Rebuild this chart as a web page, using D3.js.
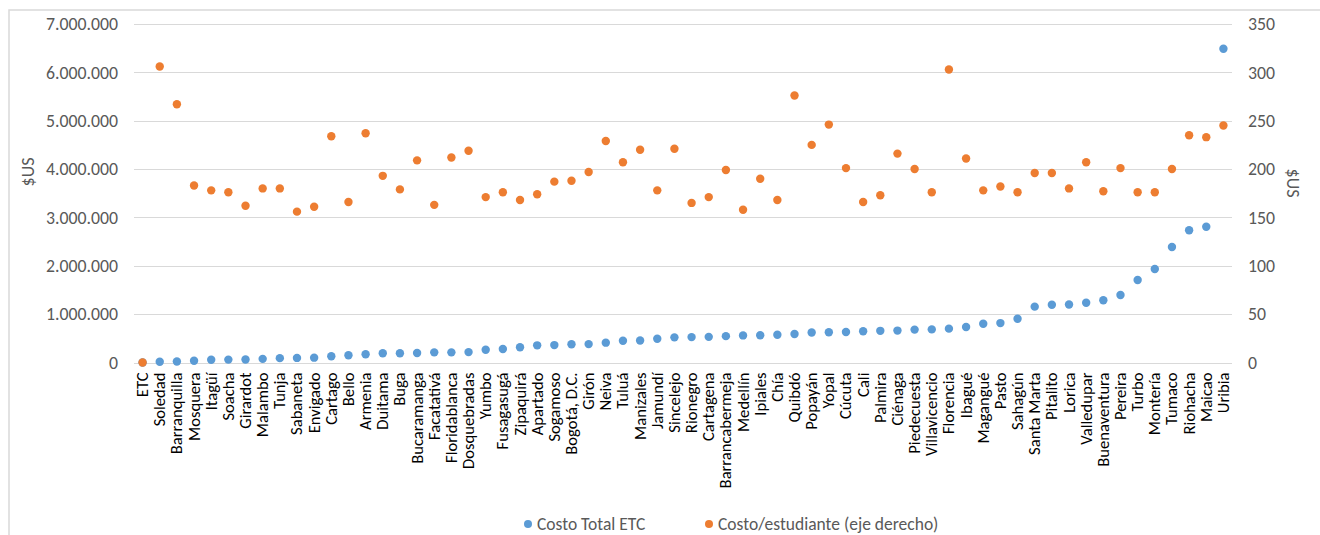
<!DOCTYPE html>
<html>
<head>
<meta charset="utf-8">
<script src="https://cdn.jsdelivr.net/npm/d3@7"></script>
<style>
  html, body { margin: 0; padding: 0; background: #fff; }
  svg text { font-family: Calibri, Carlito, "Liberation Sans", Arial, sans-serif; fill: #595959; }
</style>
</head>
<body>
<svg id="chart" width="1320" height="535"></svg>
<script>
// Municipalities (ETC), sorted by total cost
const categories = ["ETC","Soledad","Barranquilla","Mosquera","Itagüí","Soacha","Girardot","Malambo","Tunja","Sabaneta","Envigado","Cartago","Bello","Armenia","Duitama","Buga","Bucaramanga","Facatativá","Floridablanca","Dosquebradas","Yumbo","Fusagasugá","Zipaquirá","Apartado","Sogamoso","Bogotá, D.C.","Girón","Neiva","Tuluá","Manizales","Jamundí","Sincelejo","Rionegro","Cartagena","Barrancabermeja","Medellín","Ipiales","Chía","Quibdó","Popayán","Yopal","Cúcuta","Cali","Palmira","Ciénaga","Piedecuesta","Villavicencio","Florencia","Ibagué","Magangué","Pasto","Sahagún","Santa Marta","Pitalito","Lorica","Valledupar","Buenaventura","Pereira","Turbo","Montería","Tumaco","Riohacha","Maicao","Uribia"];

// Costo Total ETC (US$, left axis)
const costoTotal = [0,15000,20000,37000,58000,60000,62000,75000,90000,95000,100000,130000,150000,170000,190000,190000,195000,210000,210000,215000,265000,280000,315000,355000,360000,376000,380000,410000,450000,455000,490000,520000,525000,530000,545000,560000,565000,575000,590000,620000,625000,630000,645000,655000,660000,680000,685000,700000,735000,800000,815000,905000,1155000,1195000,1200000,1237000,1286000,1396000,1706000,1933000,2388000,2734000,2808000,6489000];

// Costo por estudiante (US$, right axis)
const costoEstudiante = [0,306,267,183,178,176,162,180,180,156,161,234,166,237,193,179,209,163,212,219,171,176,168,174,187,188,197,229,207,220,178,221,165,171,199,158,190,168,276,225,246,201,166,173,216,200,176,303,211,178,182,176,196,196,180,207,177,201,176,176,200,235,233,245];

const leftTicks = [0,1000000,2000000,3000000,4000000,5000000,6000000,7000000];
const rightTicks = [0,50,100,150,200,250,300,350];

const seriesNames = ["Costo Total ETC", "Costo/estudiante (eje derecho)"];
const colors = ["#5B9BD5", "#ED7D31"];

const FONT = 'Calibri, Carlito, "Liberation Sans", Arial, sans-serif';
const svg = d3.select("#chart");

// chart frame
svg.append("rect")
  .attr("x", 9).attr("y", 10).attr("width", 1400).attr("height", 600)
  .attr("fill", "none").attr("stroke", "#d9d9d9").attr("stroke-width", 1.5);

const plot = { left: 134, right: 1232, top: 24, bottom: 362.5 };

const x = d3.scaleBand().domain(categories).range([plot.left, plot.right]);
const yL = d3.scaleLinear().domain([0, 7000000]).range([plot.bottom, plot.top]);
const yR = d3.scaleLinear().domain([0, 350]).range([plot.bottom, plot.top]);

const fmt = v => d3.format(",")(v).replace(/,/g, ".");

// gridlines
svg.append("g")
  .selectAll("line").data(leftTicks).join("line")
  .attr("x1", plot.left).attr("x2", plot.right)
  .attr("y1", d => Math.round(yL(d)) + 0.5).attr("y2", d => Math.round(yL(d)) + 0.5)
  .attr("stroke", "#d9d9d9").attr("stroke-width", 1);

// left axis
const axL = svg.append("g")
  .attr("transform", `translate(${plot.left},0)`)
  .call(d3.axisLeft(yL).tickValues(leftTicks).tickFormat(fmt).tickSize(0).tickPadding(16));
axL.select(".domain").remove();
axL.selectAll("text").style("font-size", "17.8px").style("fill", "#595959").style("font-family", FONT);

// right axis
const axR = svg.append("g")
  .attr("transform", `translate(${plot.right},0)`)
  .call(d3.axisRight(yR).tickValues(rightTicks).tickSize(0).tickPadding(16));
axR.select(".domain").remove();
axR.selectAll("text").style("font-size", "17.8px").style("fill", "#595959").style("font-family", FONT);

// category axis
const axX = svg.append("g")
  .attr("transform", `translate(0,${plot.bottom})`)
  .call(d3.axisBottom(x).tickSize(0).tickPadding(0));
axX.select(".domain").remove();
axX.selectAll("text")
  .attr("transform", "rotate(-90)")
  .attr("x", -10).attr("y", 0).attr("dy", "0.33em")
  .style("text-anchor", "end")
  .style("font-size", "16.6px").style("fill", "#000").style("font-family", FONT);

// axis titles
svg.append("text")
  .attr("transform", "translate(28,172) rotate(-90)")
  .attr("text-anchor", "middle").attr("dy", "0.35em")
  .style("font-size", "18px").style("fill", "#595959").text("$US");
svg.append("text")
  .attr("transform", "translate(1293,183) rotate(90)")
  .attr("text-anchor", "middle").attr("dy", "0.35em")
  .style("font-size", "18px").style("fill", "#595959").text("$US");

// series points
const cx = d => x(d) + x.bandwidth() / 2;
svg.append("g").selectAll("circle").data(categories).join("circle")
  .attr("cx", cx)
  .attr("cy", (d, i) => yL(costoTotal[i]))
  .attr("r", 4.2).attr("fill", colors[0]);
svg.append("g").selectAll("circle").data(categories).join("circle")
  .attr("cx", cx)
  .attr("cy", (d, i) => yR(costoEstudiante[i]))
  .attr("r", 4.2).attr("fill", colors[1]);

// legend
const legendX = [528, 709];
const lg = svg.append("g");
seriesNames.forEach((name, i) => {
  lg.append("circle").attr("cx", legendX[i]).attr("cy", 524).attr("r", 4).attr("fill", colors[i]);
  lg.append("text").attr("x", legendX[i] + 9).attr("y", 524).attr("dy", "0.35em")
    .style("font-size", "17.5px").style("fill", "#595959").style("font-family", FONT).text(name);
});
</script>
</body>
</html>
